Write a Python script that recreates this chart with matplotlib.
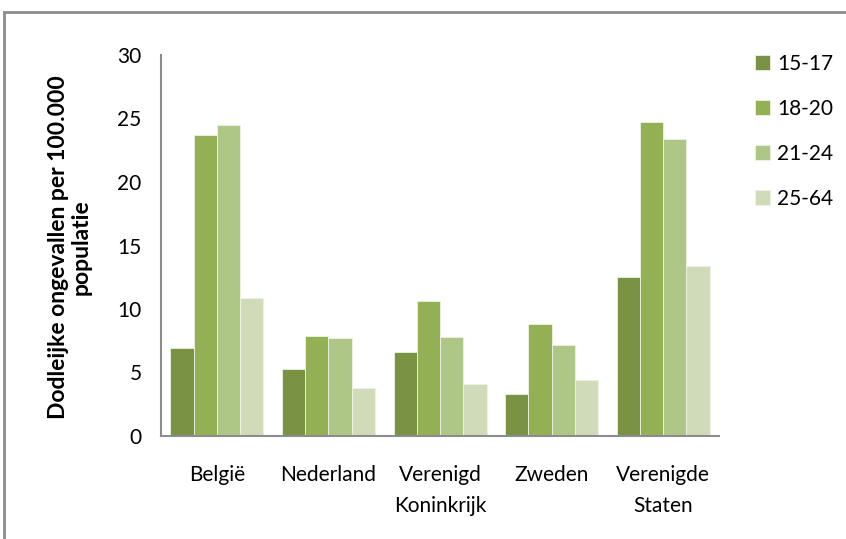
import matplotlib
matplotlib.use('Agg')
import matplotlib.pyplot as plt
import numpy as np
from matplotlib.patches import Rectangle

# data
countries = ['België', 'Nederland', 'Verenigd\nKoninkrijk', 'Zweden', 'Verenigde\nStaten']
age_groups = ['15-17', '18-20', '21-24', '25-64']
v_15_17 = [6.9, 5.3, 6.6, 3.3, 12.5]
v_18_20 = [23.7, 7.9, 10.6, 8.8, 24.7]
v_21_24 = [24.5, 7.7, 7.8, 7.2, 23.4]
v_25_64 = [10.9, 3.8, 4.1, 4.4, 13.4]
colors = ['#799244', '#94B055', '#AFC786', '#D0DCB9']

plt.rcParams['font.family'] = ['Lato', 'DejaVu Sans']

fig = plt.figure(figsize=(8.46, 5.39), dpi=100)
ax = fig.add_axes([161 / 846, 1 - 436 / 539, (719 - 161) / 846, (436 - 55) / 539])

# outer chart border (cut off at right and bottom)
fig.patches.append(Rectangle((4 / 846, -0.2), 1.2, 0.2 + 1 - 12 / 539,
                             transform=fig.transFigure, fill=False,
                             edgecolor='#8c8c8c', linewidth=2))

series = [v_15_17, v_18_20, v_21_24, v_25_64]
x = np.arange(len(countries))
w = 1 / 4.8
for i, vals in enumerate(series):
    ax.bar(x + (i - 1.5) * w, vals, width=w, color=colors[i],
           edgecolor='#eef3e4', linewidth=0.6, label=age_groups[i])

ax.set_xlim(-0.5, len(countries) - 0.5)
ax.set_ylim(0, 30)
ax.set_yticks(range(0, 31, 5))
ax.set_xticks(x)
ax.set_xticklabels(countries, fontsize=15, linespacing=1.65)
ax.tick_params(axis='y', length=0, pad=14, labelsize=15)
ax.tick_params(axis='x', length=0, pad=21)

for s in ['top', 'right']:
    ax.spines[s].set_visible(False)
for s in ['left', 'bottom']:
    ax.spines[s].set_color('#8c8c8c')
    ax.spines[s].set_linewidth(1.5)

fig.text(70 / 846, 1 - 247 / 539, 'Dodleijke ongevallen per 100.000\npopulatie',
         rotation=90, ha='center', va='center', fontsize=16.5,
         fontweight='bold', linespacing=1.1)

ax.legend(loc='upper left', bbox_to_anchor=(755 / 846, 1 - 54 / 539),
          bbox_transform=fig.transFigure, frameon=False, fontsize=15,
          handlelength=0.7, handleheight=0.7, handletextpad=0.35,
          labelspacing=1.2, borderaxespad=0, borderpad=0)

fig.savefig('out.png', dpi=100)
